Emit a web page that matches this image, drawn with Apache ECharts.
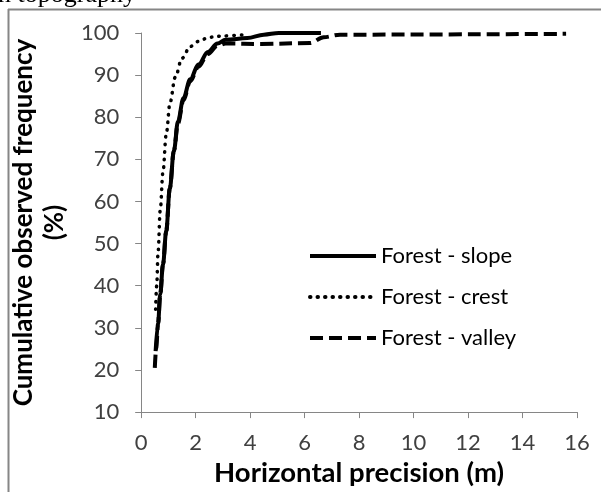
<!DOCTYPE html>
<html>
<head>
<meta charset="utf-8">
<script src="https://cdn.jsdelivr.net/npm/echarts@6/dist/echarts.min.js"></script>
<style>
html,body{margin:0;padding:0;background:#fff;}
#chart{width:601px;height:492px;}
</style>
</head>
<body>
<div id="chart"></div>
<script>
var seriesNames = ['Forest - slope', 'Forest - crest', 'Forest - valley'];
var slopeData = [[0.53,24.5],[0.62,31],[0.7,38],[0.8,45],[0.92,53],[1.05,63],[1.2,72],[1.35,79],[1.55,84.5],[1.8,89],[2.1,92.5],[2.45,95.5],[2.8,97.5],[3.1,98.4],[3.9,98.8],[4.5,99.6],[5.05,100],[6.6,100]];
var crestData = [[0.53,34.4],[0.57,40],[0.62,48],[0.7,58],[0.8,67],[0.92,76],[1.06,83.5],[1.25,89.5],[1.5,94],[1.8,96.8],[2.1,98],[2.5,99],[3.0,99.3],[3.8,99.6]];
var valleyData = [[0.5,20.5],[0.55,25],[0.62,31],[0.7,38],[0.8,45],[0.92,53],[1.05,63],[1.2,72],[1.35,78.5],[1.55,84],[1.8,88.5],[2.1,92],[2.45,95],[2.8,97],[3.1,97.5],[4.4,97.4],[6.2,97.6],[6.7,99],[7.3,99.6],[15.6,99.8]];
var xMin = 0, xMax = 16, xStep = 2;
var yMin = 10, yMax = 100, yStep = 10;
var xTitle = 'Horizontal precision (m)';
var yTitle = 'Cumulative observed frequency\n(%)';

var FONT = 'Lato';
var chart = echarts.init(document.getElementById('chart'), null, {renderer:'canvas'});
var axisGray = '#868686';
chart.setOption({
  animation: false,
  backgroundColor: '#fff',
  grid: {left: 123, right: 24, top: 33, bottom: 71, containLabel: false},
  xAxis: {
    type: 'value', min: xMin, max: xMax, interval: xStep,
    axisLine: {show: true, lineStyle: {color: axisGray, width: 1}},
    axisTick: {show: true, length: 6, lineStyle: {color: axisGray}},
    splitLine: {show: false},
    axisLabel: {color: '#404040', fontFamily: FONT, fontSize: 22, margin: 20},
    name: xTitle, nameLocation: 'middle', nameGap: 40,
    nameTextStyle: {color: '#000', fontFamily: FONT, fontWeight: 'bold', fontSize: 27.5}
  },
  yAxis: {
    type: 'value', min: yMin, max: yMax, interval: yStep,
    axisLine: {show: true, lineStyle: {color: axisGray, width: 1}},
    axisTick: {show: true, length: 6, lineStyle: {color: axisGray}},
    splitLine: {show: false},
    axisLabel: {color: '#404040', fontFamily: FONT, fontSize: 22, margin: 22},
    name: yTitle, nameLocation: 'middle', nameGap: 46, nameRotate: 90,
    nameTextStyle: {color: '#000', fontFamily: FONT, fontWeight: 'bold', fontSize: 26, lineHeight: 31, align: 'center'}
  },
  legend: {
    orient: 'vertical', left: 303, top: 240, itemWidth: 66, itemHeight: 14, itemGap: 19,
    textStyle: {color: '#000', fontFamily: FONT, fontSize: 22},
    itemStyle: {opacity: 0},
    lineStyle: {width: 4},
    data: seriesNames
  },
  series: [
    {name: seriesNames[0], type: 'line', data: slopeData, symbol: 'none', smooth: 0.35, smoothMonotone: 'x',
     lineStyle: {color: '#000', width: 4, type: 'solid'}, itemStyle: {color: '#000'}},
    {name: seriesNames[1], type: 'line', data: crestData, symbol: 'none', smooth: 0.35, smoothMonotone: 'x',
     lineStyle: {color: '#000', width: 3.5, type: [0.5, 7], cap: 'round'}, itemStyle: {color: '#000'}},
    {name: seriesNames[2], type: 'line', data: valleyData, symbol: 'none', smooth: 0.35, smoothMonotone: 'x',
     lineStyle: {color: '#000', width: 4, type: [13, 6]}, itemStyle: {color: '#000'}}
  ],
  graphic: [
    {type: 'line', shape: {x1: 8.5, y1: 9, x2: 8.5, y2: 492}, style: {stroke: axisGray, lineWidth: 2}, silent: true},
    {type: 'line', shape: {x1: 8, y1: 9.5, x2: 601, y2: 9.5}, style: {stroke: axisGray, lineWidth: 2}, silent: true},
    {type: 'text', left: -2, top: -18, style: {text: 'n topography', fontFamily: 'Liberation Serif', fontSize: 26, fill: '#000'}, silent: true}
  ]
});
</script>
</body>
</html>
